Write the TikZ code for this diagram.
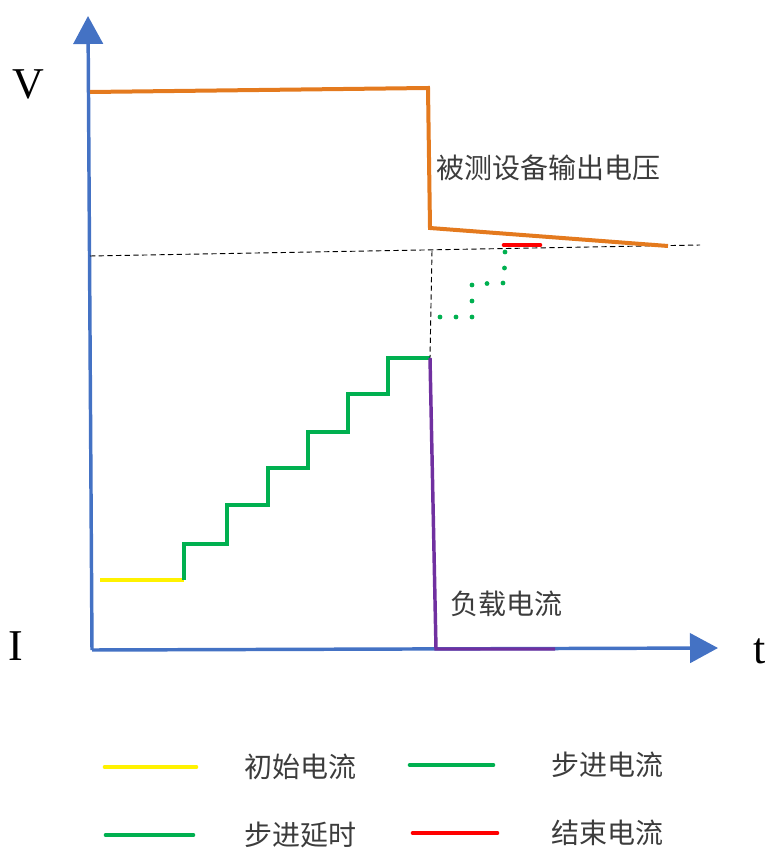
\documentclass[tikz,border=0pt]{standalone}
\usepackage{fontspec}
\setmainfont{Liberation Serif}
\newfontfamily\cjk{Noto Sans CJK SC}
\usetikzlibrary{arrows.meta}
\definecolor{axisblue}{HTML}{4472C4}
\definecolor{voltorange}{HTML}{E47A1E}
\definecolor{stepgreen}{HTML}{00B050}
\definecolor{loadpurple}{HTML}{7030A0}
\definecolor{labelgray}{HTML}{3C3C3C}
\tikzset{
	axis line/.style={
		draw=axisblue,
		line width=2.6pt,
		-{Triangle[length=21pt,width=22pt]}
	},
	volt line/.style={draw=voltorange, line width=3pt},
	init current/.style={draw=yellow, line width=3pt},
	step current/.style={draw=stepgreen, line width=3pt},
	step delay/.style={
		draw=stepgreen,
		line width=3.6pt,
		line cap=round,
		dash pattern=on 0pt off 12pt
	},
	end current/.style={draw=red, line width=3.5pt, line cap=round},
	load current/.style={draw=loadpurple, line width=2.6pt},
	ref line/.style={draw=black, line width=0.7pt, dash pattern=on 4pt off 2.5pt},
	legend line/.style={line width=3.5pt, line cap=round},
	axis label/.style={font=\fontsize{33}{33}\selectfont, inner sep=0pt},
	cjk label/.style={
		font=\cjk\fontsize{21}{22}\selectfont,
		text=labelgray,
		inner sep=0pt
	},
}

\begin{document}
\begin{tikzpicture}[x=0.75pt, y=-0.75pt]
\useasboundingbox (0,0) rectangle (766,852);

% axes
\coordinate (origin) at (92,650);
\coordinate (ytip) at (88,16);
\coordinate (xtip) at (718,648);
\draw [axis line] (origin) -- (ytip);
\draw [axis line] (origin) -- (xtip);

\node [axis label] (vlabel) at (28,84) {V};
\node [axis label] (ilabel) at (16,646) {I};
\node [axis label] (tlabel) at (760,651) {t};

% reference level
\coordinate (ref-left) at (90,256);
\coordinate (ref-right) at (700,245);
\coordinate (ref-cut) at (432,251);
\draw [ref line] (ref-left) -- (ref-right);

% output voltage
\coordinate (v-start) at (90,92);
\coordinate (v-top) at (428,88);
\coordinate (v-bottom) at (430,228);
\coordinate (v-end) at (668,246);
\draw [volt line] (v-start) -- (v-top) -- (v-bottom) -- (v-end);
\node [cjk label] (vout) at (548,168) {被测设备输出电压};

% staircase
\foreach \x/\y [count=\i] in {184/580,227/544,268/505,308/468,348/432,388/394,430/358}
	\coordinate (step-\i) at (\x,\y);

\coordinate (init-start) at (100,580);
\draw [init current] (init-start) -- (step-1);
\draw [step current, line join=miter] (step-1)
	\foreach \i in {2,...,7} { |- (step-\i) };

\draw [ref line] (ref-cut) -- (step-7);

% delay steps
\coordinate (delay-1) at (440,317);
\coordinate (delay-2) at (472,317);
\coordinate (delay-3) at (472,284);
\coordinate (delay-4) at (504,283);
\coordinate (delay-5) at (505,252);
\draw [step delay] (delay-1) -- (delay-2) -- (delay-3) -- (delay-4) -- (delay-5);

\coordinate (end-start) at (504,245);
\coordinate (end-stop) at (540,245);
\draw [end current] (end-start) -- (end-stop);

% load current
\coordinate (load-drop) at (436,649);
\coordinate (load-end) at (555,649);
\draw [load current] (step-7) -- (load-drop) -- (load-end);
\node [cjk label] (iload) at (506,604) {负载电流};

% legend
\foreach \name/\col/\txt/\xa/\xb/\xt/\y in {
	init/yellow/初始电流/105/196/300/767,
	step/stepgreen/步进电流/410/493/607/765,
	delay/stepgreen/步进延时/106/193/300/835,
	end/red/结束电流/413/497/607/833}
{
	\coordinate (key-\name-a) at (\xa,\y);
	\coordinate (key-\name-b) at (\xb,\y);
	\draw [legend line, draw=\col] (key-\name-a) -- (key-\name-b);
	\node [cjk label] (text-\name) at (\xt,\y) {\txt};
}

\end{tikzpicture}
\end{document}
